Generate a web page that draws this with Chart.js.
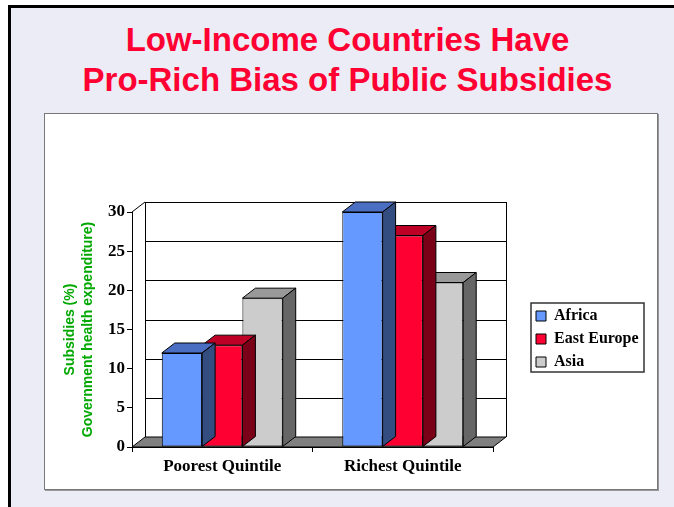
<!DOCTYPE html>
<html>
<head>
<meta charset="utf-8">
<script src="https://cdn.jsdelivr.net/npm/chart.js"></script>
<style>
  body { margin: 0; width: 674px; height: 507px; overflow: hidden; background: #fff; position: relative; }
  #frame { position: absolute; left: 8px; top: 5px; width: 700px; height: 540px;
           border-left: 3px solid #000; border-top: 3px solid #000; background: #ECECF6; }
  #panel { position: absolute; left: 44px; top: 113px; width: 612px; height: 375px;
           background: #fff; border: 1px solid #777; box-shadow: 1px 1px 0 #999; }
  #title { position: absolute; left: 21px; right: 0; top: 20px; text-align: center;
           font: bold 33px "Liberation Sans", Arial, sans-serif; line-height: 40px; color: #FF0033; }
  #c { position: absolute; left: 0; top: 0; }
</style>
</head>
<body>
<div id="frame"></div>
<div id="panel"></div>
<div id="title">Low-Income Countries Have<br>Pro-Rich Bias of Public Subsidies</div>
<canvas id="c" width="674" height="507"></canvas>
<script>
  // data
  const categories = ["Poorest Quintile", "Richest Quintile"];
  const africa = [12, 30];
  const eastEurope = [13, 27];
  const asia = [19, 21];
  const seriesNames = ["Africa", "East Europe", "Asia"];
  const yMax = 30, yStep = 5;

  // colours: front, top, side
  const frontColors = ["#6699FF", "#FF0033", "#CCCCCC"];
  const topColors = ["#4A6EC2", "#BF0026", "#999999"];
  const sideColors = ["#334D80", "#7A0018", "#666666"];

  const dx = 13, dy = -10; // depth of the 3d look

  const bar3d = {
    id: "bar3d",
    afterLayout(chart) {
      const lg = chart.legend;
      lg.left = 529; lg.right = 660;
      lg.top = 301; lg.bottom = 420;
    },
    beforeDatasetsDraw(chart) {
      const ctx = chart.ctx, a = chart.chartArea, y = chart.scales.y;
      const L = a.left, R = a.right, T = y.getPixelForValue(yMax), B = y.getPixelForValue(0);
      ctx.save();
      ctx.lineWidth = 1;
      ctx.strokeStyle = "#000";
      // floor
      ctx.beginPath();
      ctx.moveTo(L, B); ctx.lineTo(R, B); ctx.lineTo(R + dx, B + dy); ctx.lineTo(L + dx, B + dy);
      ctx.closePath();
      ctx.fillStyle = "#808080";
      ctx.fill(); ctx.stroke();
      // back wall grid
      for (let v = yStep; v <= yMax; v += yStep) {
        const py = Math.round(y.getPixelForValue(v) + dy) + 0.5;
        ctx.beginPath(); ctx.moveTo(L + dx, py); ctx.lineTo(R + dx, py); ctx.stroke();
      }
      // wall edges
      ctx.beginPath();
      ctx.moveTo(Math.round(L + dx) + 0.5, T + dy); ctx.lineTo(Math.round(L + dx) + 0.5, B + dy);
      ctx.moveTo(Math.round(R + dx) + 0.5, T + dy); ctx.lineTo(Math.round(R + dx) + 0.5, B + dy);
      ctx.moveTo(L, T); ctx.lineTo(L + dx, T + dy);
      ctx.stroke();
      ctx.restore();
    },
    afterDatasetDraw(chart, args) {
      const i = args.index, ctx = chart.ctx;
      ctx.save();
      ctx.lineWidth = 1;
      ctx.strokeStyle = "#000";
      args.meta.data.forEach(el => {
        const l = el.x - el.width / 2, r = el.x + el.width / 2, t = el.y, b = el.base;
        ctx.beginPath();
        ctx.moveTo(l, t); ctx.lineTo(l + dx, t + dy); ctx.lineTo(r + dx, t + dy); ctx.lineTo(r, t);
        ctx.closePath();
        ctx.fillStyle = topColors[i]; ctx.fill(); ctx.stroke();
        ctx.beginPath();
        ctx.moveTo(r, t); ctx.lineTo(r + dx, t + dy); ctx.lineTo(r + dx, b + dy); ctx.lineTo(r, b);
        ctx.closePath();
        ctx.fillStyle = sideColors[i]; ctx.fill(); ctx.stroke();
      });
      ctx.restore();
    },
    afterDraw(chart) {
      const ctx = chart.ctx;
      ctx.save();
      ctx.lineWidth = 1.5;
      ctx.strokeStyle = "#333";
      ctx.strokeRect(531, 303, 113, 69);
      ctx.restore();
    }
  };

  const serif = "'Liberation Serif', 'Times New Roman', serif";

  new Chart(document.getElementById("c"), {
    type: "bar",
    data: {
      labels: categories,
      datasets: [africa, eastEurope, asia].map((d, i) => ({
        label: seriesNames[i],
        data: d,
        backgroundColor: frontColors[i],
        borderColor: "#000",
        borderWidth: 1,
        borderSkipped: false,
        categoryPercentage: 0.67,
        barPercentage: 1.0,
        clip: false
      }))
    },
    options: {
      responsive: false,
      devicePixelRatio: 1,
      animation: false,
      events: [],
      layout: { padding: { left: 40, top: 212, right: 181, bottom: 0 } },
      plugins: {
        tooltip: { enabled: false },
        title: { display: false },
        legend: {
          position: "chartArea",
          align: "start",
          labels: {
            font: { family: serif, size: 16, weight: "bold" },
            color: "#000",
            boxWidth: 10,
            boxHeight: 10,
            padding: 7
          }
        }
      },
      scales: {
        x: {
          afterFit: s => { s.height = 60; },
          grid: { display: true, drawOnChartArea: false, offset: true, tickLength: 5, color: "#000" },
          border: { display: true, color: "#000" },
          ticks: { padding: 4, color: "#000", font: { family: serif, size: 17, weight: "bold" } }
        },
        y: {
          min: 0,
          max: yMax,
          afterFit: s => { s.width = 92; },
          grid: { display: true, drawOnChartArea: false, tickLength: 5, color: "#000" },
          border: { display: true, color: "#000" },
          ticks: { stepSize: yStep, padding: 2, color: "#000", font: { family: serif, size: 17, weight: "bold" } },
          title: {
            display: true,
            text: ["Subsidies (%)", "Government health expenditure)"],
            color: "#00A800",
            padding: { top: 21, bottom: 0 },
            font: { family: "'Liberation Sans', Arial, sans-serif", size: 14, weight: "bold", lineHeight: 18 / 14 }
          }
        }
      }
    },
    plugins: [bar3d]
  });
</script>
</body>
</html>
